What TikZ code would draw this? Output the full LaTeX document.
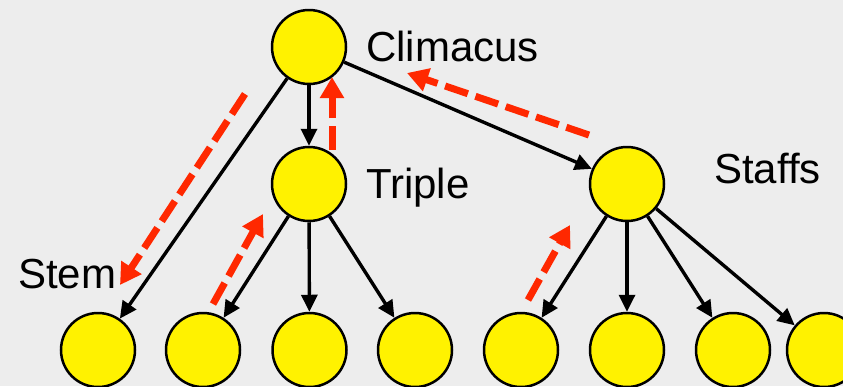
\documentclass[tikz,border=0pt]{standalone}
\usepackage{fontspec}
\setmainfont{Liberation Sans}
\usetikzlibrary{arrows.meta}
\definecolor{bg}{RGB}{237,237,237}
\definecolor{redarr}{RGB}{255,40,0}
\begin{document}
\begin{tikzpicture}[x=1pt,y=-1pt,
  ball/.style={circle,draw=black,fill=yellow,line width=2.5pt,minimum size=74pt,inner sep=0pt},
  lbl/.style={inner sep=0pt,anchor=base west,font=\fontsize{42}{50}\selectfont},
  blk/.style={line width=3.4pt,-{Triangle[length=17pt,width=16pt]}},
  redd/.style={draw=redarr,line width=7pt,dash pattern=on 24pt off 8pt,-{Triangle[length=21pt,width=23pt]}}
]
\fill[bg] (0,0) rectangle (843,386);
\useasboundingbox (0,0) rectangle (843,386);

\node[ball] (c) at (309,47) {};
\node[ball] (t) at (309,184) {};
\node[ball] (s) at (627,184) {};
\node[ball] (b1) at (98,350) {};
\node[ball] (b2) at (203,350) {};
\node[ball] (b3) at (309.5,350) {};
\node[ball] (b4) at (415,350) {};
\node[ball] (b5) at (521,350) {};
\node[ball] (b6) at (627,350) {};
\node[ball] (b7) at (733,350) {};
\node[ball] (b8) at (824,350) {};

\node[lbl] (lc) at (366,61) {Climacus};
\node[lbl] (lt) at (366,198) {Triple};
\node[lbl] (ls) at (714,183) {Staffs};
\node[lbl] (lstem) at (18,288) {Stem};

\draw[blk] (c) -- (b1);
\draw[blk] (c) -- (t);
\draw[blk] (c) -- (s);
\draw[blk] (t) -- (b2);
\draw[blk] (t) -- (b3);
\draw[blk] (t) -- (b4);
\draw[blk] (s) -- (b5);
\draw[blk] (s) -- (b6);
\draw[blk] (s) -- (b7);
\draw[blk] (s) -- (b8);

\coordinate (r1a) at (245,94);
\coordinate (r1b) at (120,285);
\coordinate (r2a) at (332,150);
\coordinate (r2b) at (332,77);
\coordinate (r3a) at (213,304);
\coordinate (r3b) at (263,214);
\coordinate (r4a) at (528,300);
\coordinate (r4b) at (570,225);
\coordinate (r5a) at (589,135);
\coordinate (r5b) at (407,73);

\draw[redd] (r1a) -- (r1b);
\draw[redd] (r2a) -- (r2b);
\draw[redd] (r3a) -- (r3b);
\draw[redd] (r4a) -- (r4b);
\draw[redd] (r5a) -- (r5b);
\end{tikzpicture}
\end{document}
